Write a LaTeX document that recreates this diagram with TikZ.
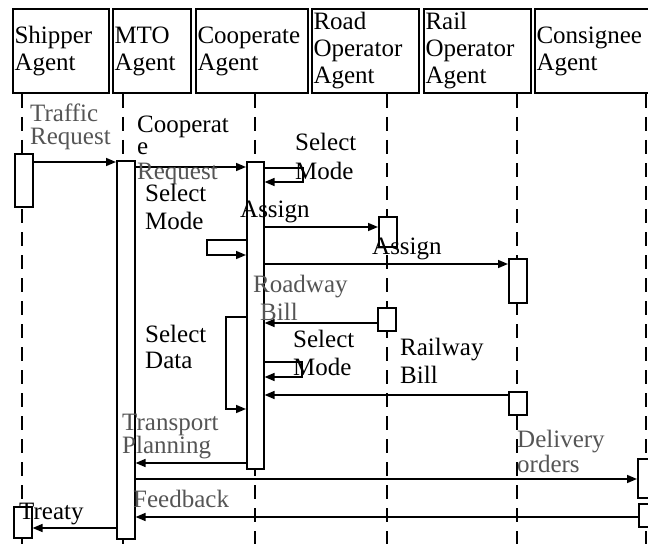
\documentclass[tikz,border=0pt]{standalone}
\usepackage{fontspec}
\setmainfont{Liberation Serif}
\usetikzlibrary{arrows.meta}
\definecolor{lblgray}{RGB}{85,85,85}
\begin{document}
\begin{tikzpicture}[x=1bp,y=-1bp,
  hdr/.style={draw, line width=2bp, anchor=north west, inner xsep=1.5bp, inner ysep=0pt,
    align=left, minimum height=84bp, font=\fontsize{25bp}{27bp}\selectfont},
  life/.style={line width=1.8bp, dash pattern=on 14bp off 9bp},
  act/.style={draw, fill=white, line width=1.6bp, inner sep=0pt, anchor=north west, minimum width=18bp},
  msg/.style={line width=1.6bp, -{Triangle[length=10bp,width=8bp]}},
  lbl/.style={anchor=base west, inner sep=0pt, align=left, font=\fontsize{25bp}{28bp}\selectfont},
  glbl/.style={lbl, text=lblgray, font=\fontsize{25bp}{23bp}\selectfont}]
\clip (0,0) rectangle (648,544);
% header boxes
\node[hdr, text width=93bp] (ship) at (12,8) {Shipper\\Agent};
\node[hdr, text width=75bp] (mto) at (112,8) {MTO\\Agent};
\node[hdr, text width=109bp] (coop) at (195,8) {Cooperate\\Agent};
\node[hdr, text width=104bp] (road) at (311,8) {Road\\Operator\\Agent};
\node[hdr, text width=104bp] (rail) at (423,8) {Rail\\Operator\\Agent};
\node[hdr, text width=115bp] (cons) at (534,8) {Consignee\\Agent};
% lifelines
\draw[life] (ship.south -| 22,0) -- (22,544);
\draw[life] (mto.south -| 123,0) -- (123,544);
\draw[life] (coop.south -| 255,0) -- (255,544);
\draw[life] (road.south -| 387,0) -- (387,544);
\draw[life] (rail.south -| 517,0) -- (517,544);
\draw[life] (cons.south -| 646,0) -- (646,544);
% activation boxes
\node[act, minimum height=53bp] (sa1) at (14,153) {};
\node[act, minimum height=31bp] (sa2) at (13,506) {};
\node[act, minimum height=378bp] (mtoA) at (116,160) {};
\node[act, minimum width=17bp, minimum height=307bp] (coA) at (246,161) {};
\node[act, minimum height=30bp] (roA1) at (378,216) {};
\node[act, minimum height=44bp] (raA1) at (508,258) {};
\node[act, minimum height=23bp] (roA2) at (377,307) {};
\node[act, minimum height=23bp] (raA2) at (508,391) {};
\node[act, minimum height=39bp] (cnA1) at (637,458) {};
\node[act, minimum height=23bp] (cnA2) at (638,503) {};
% messages
\draw[msg] (sa1.east |- 0,162) -- (mtoA.west |- 0,162);
\draw[msg] (mtoA.east |- 0,167) -- (coA.west |- 0,167);
\draw[msg] (coA.east |- 0,168) -| (303,182) -- (coA.east |- 0,182);
\draw[msg] (coA.west |- 0,240) -| (207,255) -- (coA.west |- 0,255);
\draw[msg] (coA.east |- 0,227) -- (roA1.west |- 0,227);
\draw[msg] (coA.east |- 0,264) -- (raA1.west |- 0,264);
\draw[msg] (roA2.west |- 0,323) -- (coA.east |- 0,323);
\draw[msg] (coA.east |- 0,362) -| (302,377) -- (coA.east |- 0,377);
\draw[msg] (raA2.west |- 0,395) -- (coA.east |- 0,395);
\draw[msg] (coA.west |- 0,317) -| (226,409) -- (coA.west |- 0,409);
\draw[msg] (coA.west |- 0,463) -- (mtoA.east |- 0,463);
\draw[msg] (mtoA.east |- 0,479) -- (cnA1.west |- 0,479);
\draw[msg] (cnA2.west |- 0,517) -- (mtoA.east |- 0,517);
\draw[msg] (mtoA.west |- 0,528) -- (sa2.east |- 0,528);
% labels
\node[glbl] (l1) at (30,145) {Traffic\\Request};
\node[lbl, font=\fontsize{25bp}{22bp}\selectfont] (l2) at (137,155) {Cooperat\\e};
\node[glbl] (l2b) at (137,180) {Request};
\node[lbl, font=\fontsize{25bp}{29bp}\selectfont] (l3) at (295,180) {Select\\Mode};
\node[lbl] (l4) at (145,230) {Select\\Mode};
\node[lbl] (l5) at (240,218) {Assign};
\node[lbl] (l6) at (372,255) {Assign};
\node[glbl, font=\fontsize{25bp}{28bp}\selectfont] (l7) at (253,320) {Roadway\\\hspace*{7bp}Bill};
\node[lbl] (l8) at (293,375) {Select\\Mode};
\node[lbl] (l9) at (400,383) {Railway\\Bill};
\node[lbl, font=\fontsize{25bp}{26bp}\selectfont] (l10) at (145,368) {Select\\Data};
\node[glbl] (l11) at (122,453) {Transport\\Planning};
\node[glbl, font=\fontsize{25bp}{25bp}\selectfont] (l12) at (517,472) {Delivery\\orders};
\node[glbl] (l13) at (133,507) {Feedback};
\node[lbl] (l14) at (19,519) {Treaty};
\end{tikzpicture}
\end{document}
